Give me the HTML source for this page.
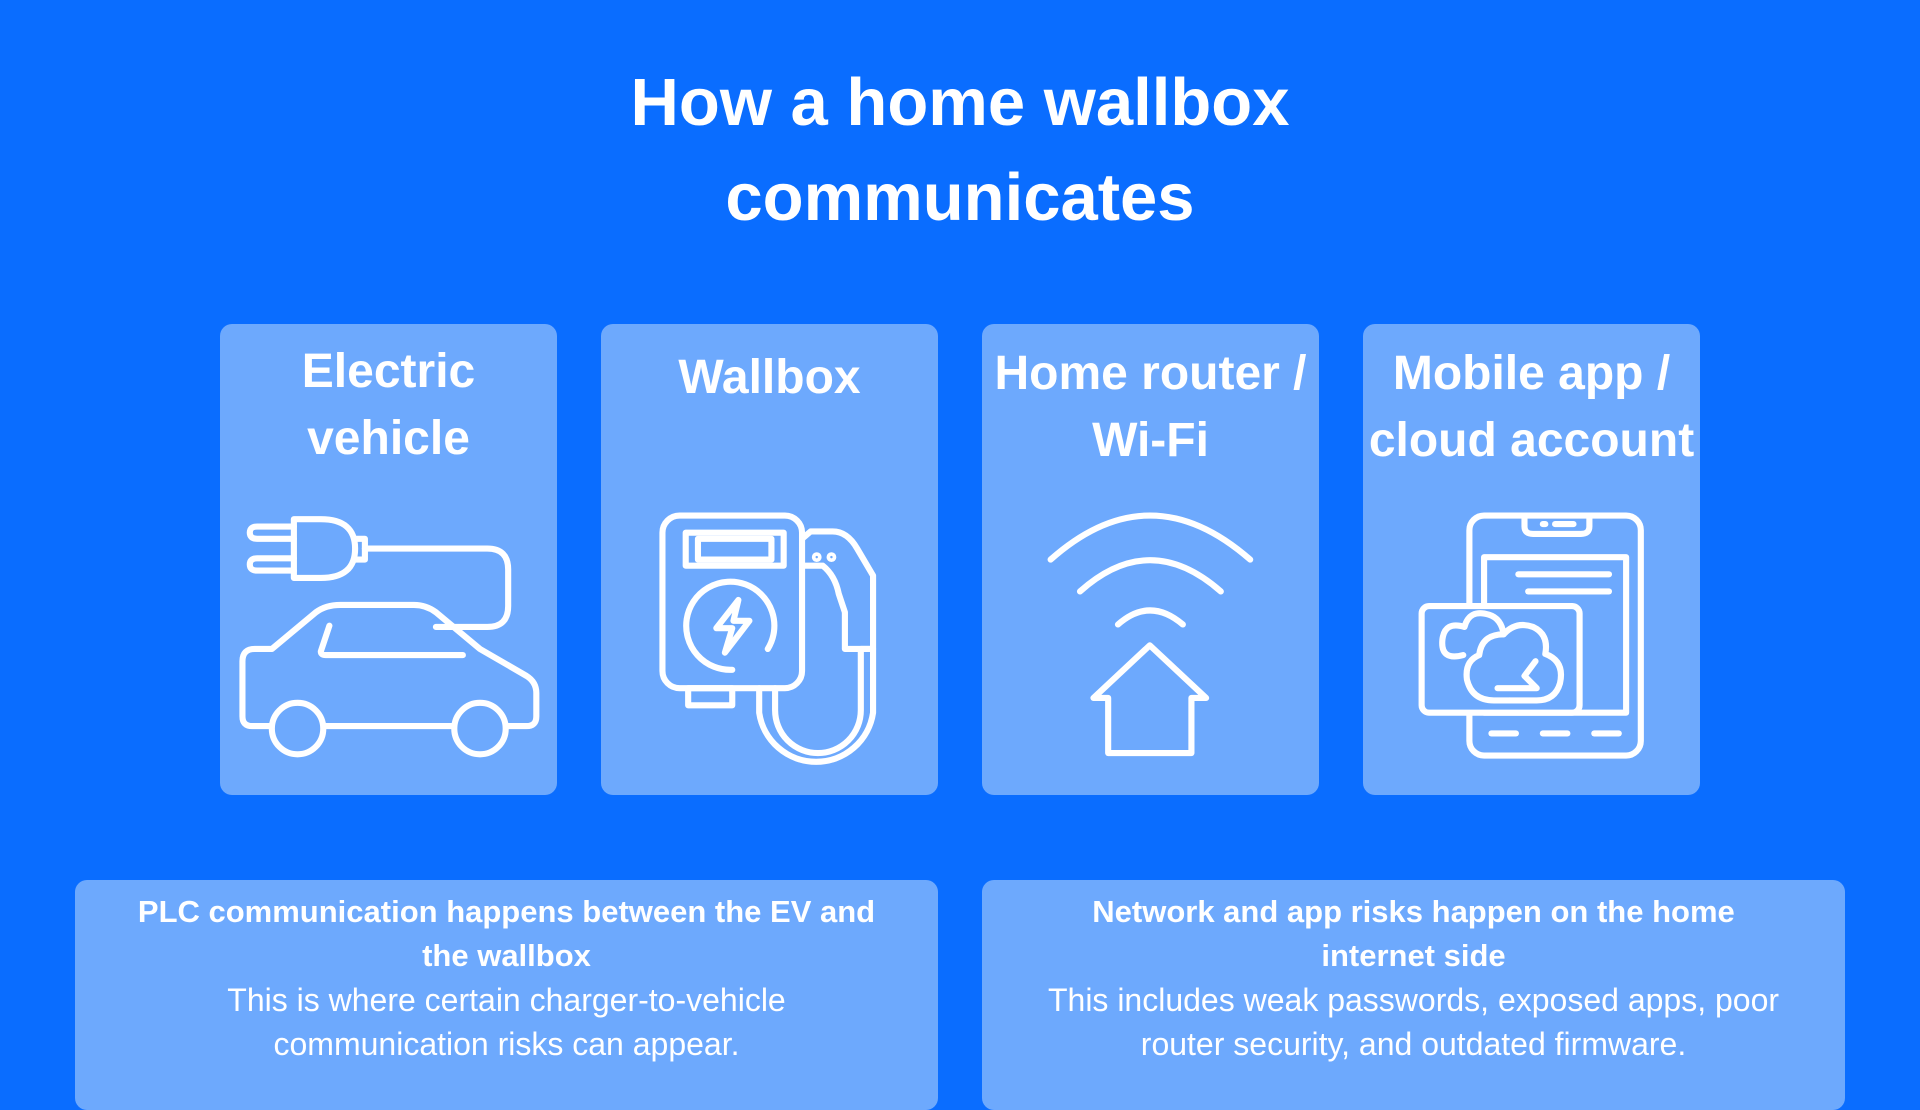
<!DOCTYPE html>
<html><head><meta charset="utf-8"><style>
html,body{margin:0;padding:0}
body{width:1920px;height:1080px;background:#0a6dff;position:relative;overflow:hidden;font-family:"Liberation Sans",sans-serif;color:#fff}
.title{position:absolute;left:0;width:1920px;top:55px;text-align:center;font-weight:bold;font-size:67px;line-height:95px}
.card{position:absolute;top:324px;width:337px;height:471px;background:#6da9fd;border-radius:12px}
.ct{position:absolute;left:-10px;right:-10px;text-align:center;font-weight:bold;font-size:48px;line-height:67px}
.box{position:absolute;top:880px;height:230px;width:863px;background:#6da9fd;border-radius:12px;text-align:center;font-size:32px;line-height:44px;padding-top:10px;box-sizing:border-box}
.box b{display:block;font-size:31px}
svg{position:absolute;left:0;top:0}
</style></head><body>
<div class="title">How a home wallbox<br>communicates</div>
<div class="card" style="left:220px"><div class="ct" style="top:14px">Electric<br>vehicle</div></div>
<div class="card" style="left:601px"><div class="ct" style="top:20px">Wallbox</div></div>
<div class="card" style="left:982px"><div class="ct" style="top:16px">Home router /<br>Wi-Fi</div></div>
<div class="card" style="left:1363px"><div class="ct" style="top:16px">Mobile app /<br>cloud account</div></div>
<div class="box" style="left:75px"><b>PLC communication happens between the EV and<br>the wallbox</b>This is where certain charger-to-vehicle<br>communication risks can appear.</div>
<div class="box" style="left:982px"><b>Network and app risks happen on the home<br>internet side</b>This includes weak passwords, exposed apps, poor<br>router security, and outdated firmware.</div>
<svg width="1920" height="1080" viewBox="0 0 1568 882" fill="none" stroke="#fff" stroke-width="5" stroke-linecap="round" stroke-linejoin="round">
<!-- car -->
<path d="M221 593 L206 593 Q198 593 198 585 L198 540 Q198 530 208 530 L222 530 L258 500 Q266 494 278 494 L338 494 Q348 494 356 500 L392 530 L430 552 Q438 557 438 566 L438 585 Q438 593 430 593 L414 593"/>
<circle cx="243" cy="595" r="21"/><circle cx="392" cy="595" r="21"/>
<line x1="265" y1="593" x2="370" y2="593"/>
<path d="M269 511 L262 532 Q262 535 266 535 L378 535"/>
<!-- plug -->
<path d="M240 424 L262 424 Q290 424 290 448 Q290 472 262 472 L240 472 Z"/>
<path d="M240 430 L210 430 Q204 430 204 435 Q204 440 210 440 L240 440"/>
<path d="M240 456 L210 456 Q204 456 204 461 Q204 466 210 466 L240 466"/>
<path d="M290 440 L298 440 L298 457 L290 457"/>
<path d="M298 448 L398 448 Q415 448 415 465 L415 495 Q415 512 398 512 L356 512"/>
<!-- wallbox -->
<rect x="541" y="421" width="114" height="141" rx="14"/>
<rect x="560" y="435" width="80" height="27"/>
<rect x="570" y="440" width="60" height="17"/>
<path d="M627 530 A36 36 0 1 0 598 547"/>
<path d="M603 490 L585 513 L598 513 L592 533 L612 507 L599 507 Z"/>
<rect x="562" y="562" width="36" height="14"/>
<path d="M655 440 L662 434 L680 434 Q692 434 700 448 L713 470 L713 530 L703 530 L703 580 A35 35 0 0 1 633 580 L633 562"/>
<path d="M655 462 L672 462 Q682 470 685 485 L690 500 L690 530 L713 530 L713 582 A47 47 0 0 1 620 582 L620 562"/>
<circle cx="667" cy="455" r="1.5"/><circle cx="679" cy="455" r="1.5"/>
<!-- wifi -->
<path d="M858 457 Q939 385 1021 457"/>
<path d="M882 483 Q939 432 997 483"/>
<path d="M913 510 Q939 487 966 510"/>
<path d="M939 527 L985 570 L973 570 L973 615 L905 615 L905 570 L893 570 Z"/>
<!-- mobile -->
<rect x="1200" y="421" width="140" height="196" rx="12"/>
<path d="M1245 421 L1245 430 Q1245 436 1252 436 L1291 436 Q1298 436 1298 430 L1298 421"/>
<line x1="1260" y1="428" x2="1262" y2="428"/><line x1="1270" y1="428" x2="1285" y2="428"/>
<line x1="1218" y1="599" x2="1238" y2="599"/><line x1="1260" y1="599" x2="1280" y2="599"/><line x1="1302" y1="599" x2="1322" y2="599"/>
<rect x="1212" y="455" width="116" height="127"/>
<line x1="1240" y1="469" x2="1314" y2="469"/><line x1="1248" y1="483" x2="1314" y2="483"/>
<rect x="1161" y="495" width="129" height="87" rx="6" fill="#6da9fd"/>
<path d="M1195 535 Q1176 540 1178 522 Q1180 507 1196 512 Q1200 497 1216 502 Q1226 505 1228 518 Q1238 507 1252 512 Q1265 518 1262 534 Q1278 540 1274 558 Q1270 572 1255 572 L1233 572"/>
<path d="M1228 518 Q1210 518 1208 535 Q1196 540 1198 555 Q1202 572 1220 572 L1233 572"/>
<path d="M1254 540 L1245 552 L1255 562 L1223 562"/>
</svg>
</body></html>
